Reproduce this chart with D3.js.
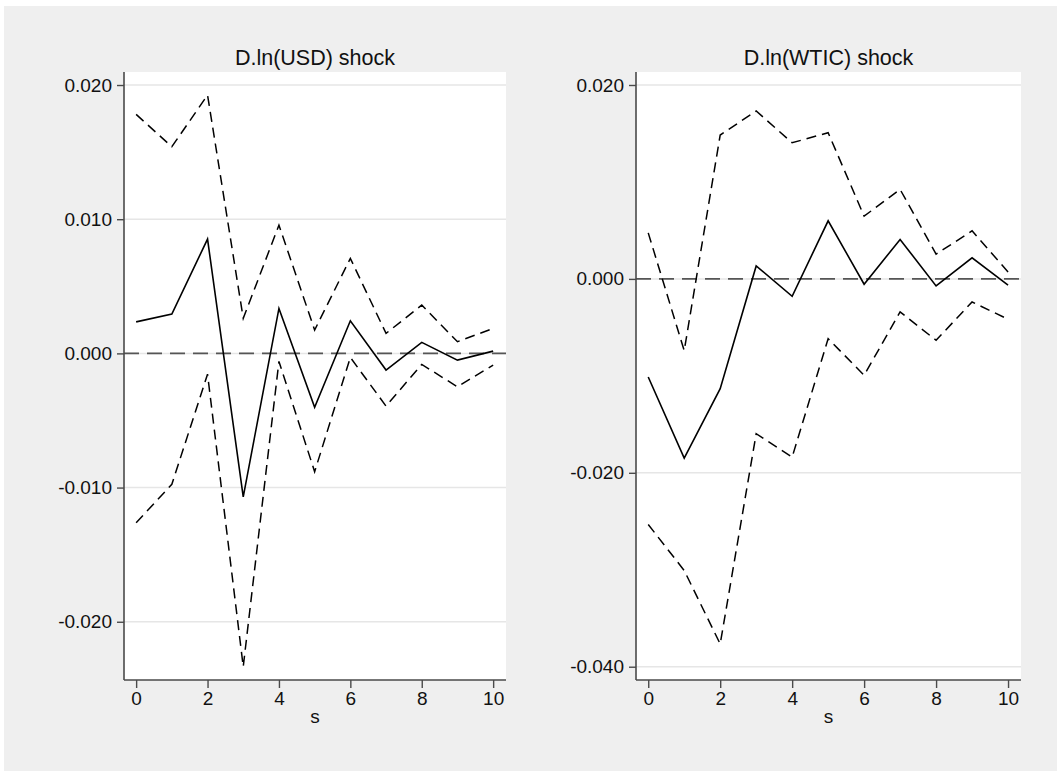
<!DOCTYPE html>
<html>
<head>
<meta charset="utf-8">
<script src="https://cdn.jsdelivr.net/npm/d3@7"></script>
<style>
  html, body { margin: 0; padding: 0; background: #ffffff; }
  svg { display: block; }
  text { font-family: "Liberation Sans", Arial, sans-serif; fill: #111; }
</style>
</head>
<body>
<svg id="chart" width="1057" height="771"></svg>
<script>
// Impulse-response step
const steps = [0, 1, 2, 3, 4, 5, 6, 7, 8, 9, 10];
const xTicks = [0, 2, 4, 6, 8, 10];

// Panel 1: D.ln(USD) shock
const usdTitle = "D.ln(USD) shock";
const usdIrf   = [0.00235, 0.00293, 0.00852, -0.01069, 0.00335, -0.00402, 0.00243, -0.00124, 0.00082, -0.00050, 0.00017];
const usdUpper = [0.01781, 0.01540, 0.01925, 0.00261, 0.00956, 0.00174, 0.00708, 0.00149, 0.00360, 0.00087, 0.00186];
const usdLower = [-0.01262, -0.00976, -0.00155, -0.02335, -0.00060, -0.00882, -0.00030, -0.00393, -0.00082, -0.00249, -0.00087];
const usdTicks = [0.020, 0.010, 0.000, -0.010, -0.020];

// Panel 2: D.ln(WTIC) shock
const wticTitle = "D.ln(WTIC) shock";
const wticIrf   = [-0.01012, -0.01848, -0.01132, 0.00134, -0.00179, 0.00599, -0.00055, 0.00407, -0.00072, 0.00217, -0.00065];
const wticUpper = [0.00475, -0.00740, 0.01484, 0.01732, 0.01404, 0.01508, 0.00647, 0.00923, 0.00255, 0.00496, 0.00072];
const wticLower = [-0.02533, -0.03008, -0.03765, -0.01597, -0.01838, -0.00616, -0.00994, -0.00341, -0.00633, -0.00238, -0.00416];
const wticTicks = [0.020, 0.000, -0.020, -0.040];

const xLabel = "s";

const svg = d3.select("#chart");
const fmt = d3.formatLocale({decimal: ".", thousands: ",", grouping: [3], currency: ["", ""], minus: "-"}).format(".3f");
const FONT = '"Liberation Sans", Arial, sans-serif';

// Outer graph region
svg.append("rect")
  .attr("x", 4).attr("y", 6)
  .attr("width", 1053).attr("height", 765)
  .attr("fill", "#efefef");

const AXIS = "#4a4a4a";

function panel(cfg) {
  const g = svg.append("g");
  const x = d3.scaleLinear().domain([-0.34, 10.36]).range([cfg.left, cfg.right]);
  const y = d3.scaleLinear().domain(cfg.yDomain).range([cfg.bottom, cfg.top]);

  // plot region
  g.append("rect")
    .attr("x", cfg.left).attr("y", cfg.top)
    .attr("width", cfg.right - cfg.left).attr("height", cfg.bottom - cfg.top)
    .attr("fill", "#ffffff");

  // horizontal grid
  g.append("g").selectAll("line").data(cfg.ticks).join("line")
    .attr("x1", cfg.left).attr("x2", cfg.right)
    .attr("y1", d => y(d)).attr("y2", d => y(d))
    .attr("stroke", "#e6e6e6").attr("stroke-width", 1.5);

  // zero reference line
  g.append("line")
    .attr("x1", cfg.left).attr("x2", cfg.right)
    .attr("y1", y(0)).attr("y2", y(0))
    .attr("stroke", "#555").attr("stroke-width", 1.7)
    .attr("stroke-dasharray", "15,8");

  const line = d3.line().x((d, i) => x(steps[i])).y(d => y(d));

  [cfg.upper, cfg.lower].forEach(band => {
    g.append("path").datum(band)
      .attr("d", line).attr("fill", "none")
      .attr("stroke", "#000").attr("stroke-width", 1.5)
      .attr("stroke-dasharray", "10,6");
  });
  g.append("path").datum(cfg.irf)
    .attr("d", line).attr("fill", "none")
    .attr("stroke", "#000").attr("stroke-width", 1.6);

  // y axis
  const ya = g.append("g")
    .attr("transform", `translate(${cfg.left},0)`)
    .call(d3.axisLeft(y).tickValues(cfg.ticks).tickFormat(fmt).tickSize(7).tickSizeOuter(0).tickPadding(5));
  ya.select(".domain").attr("stroke", AXIS).attr("stroke-width", 1.6)
    .attr("d", `M0,${cfg.top}V${cfg.bottom}`);
  ya.selectAll(".tick line").attr("stroke", AXIS).attr("stroke-width", 1.4);
  ya.selectAll(".tick text")
    .attr("font-family", FONT).attr("font-size", 19).attr("fill", "#111");

  // x axis
  const xa = g.append("g")
    .attr("transform", `translate(0,${cfg.bottom})`)
    .call(d3.axisBottom(x).tickValues(xTicks).tickFormat(d3.format("d")).tickSize(8).tickSizeOuter(0).tickPadding(4));
  xa.select(".domain").attr("stroke", AXIS).attr("stroke-width", 1.6)
    .attr("d", `M${cfg.left},0H${cfg.right}`);
  xa.selectAll(".tick line").attr("stroke", AXIS).attr("stroke-width", 1.4);
  xa.selectAll(".tick text")
    .attr("font-family", FONT).attr("font-size", 19).attr("fill", "#111");

  // title
  g.append("text")
    .attr("x", (cfg.left + cfg.right) / 2).attr("y", 65)
    .attr("text-anchor", "middle").attr("font-size", 21.5)
    .text(cfg.title);

  // x-axis title
  g.append("text")
    .attr("x", (cfg.left + cfg.right) / 2).attr("y", 723)
    .attr("text-anchor", "middle").attr("font-size", 19)
    .text(xLabel);
}

panel({
  title: usdTitle, irf: usdIrf, upper: usdUpper, lower: usdLower, ticks: usdTicks,
  yDomain: [-0.02434, 0.02097], left: 124, right: 506, top: 72, bottom: 680
});
panel({
  title: wticTitle, irf: wticIrf, upper: wticUpper, lower: wticLower, ticks: wticTicks,
  yDomain: [-0.04137, 0.02134], left: 636, right: 1021, top: 72, bottom: 680
});
</script>
</body>
</html>
